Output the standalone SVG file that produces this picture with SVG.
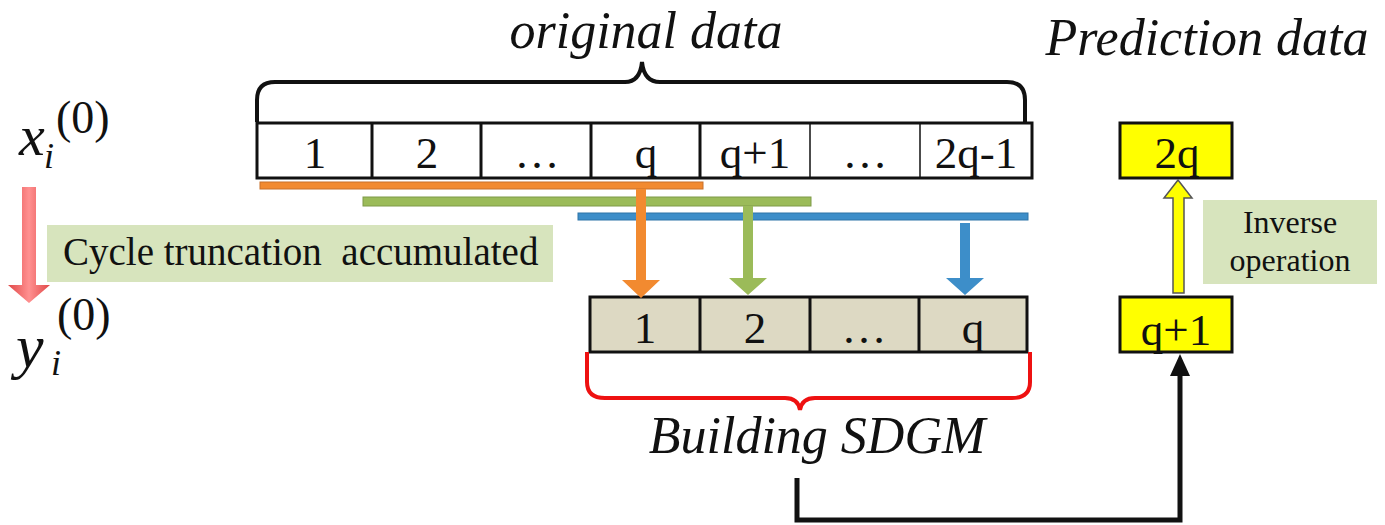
<svg xmlns="http://www.w3.org/2000/svg" width="1385" height="525" viewBox="0 0 1385 525">
<style>
text{font-family:"Liberation Serif","DejaVu Serif","Times New Roman",serif;fill:#111}
.it{font-style:italic}
.cell{font-size:45px;text-anchor:middle}
.cellbox{fill:#fff;stroke:#111;stroke-width:3}
.tan{fill:#ddd9c3;stroke:#111;stroke-width:3}
.yel{fill:#ffff00;stroke:#111;stroke-width:3}
.lbl{fill:#d7e4bd}
</style>
<defs>
<linearGradient id="rg" x1="0" y1="0" x2="1" y2="0">
<stop offset="0" stop-color="#e04848"/><stop offset="0.5" stop-color="#ff9090"/><stop offset="1" stop-color="#e04848"/>
</linearGradient>
</defs>
<rect width="1385" height="525" fill="#fff"/>

<g id="title-original">
<text class="it" x="646" y="48" font-size="52" text-anchor="middle">original data</text>
<path d="M257,122 L257,100 Q257,82 275,82 L625,82 Q640,82 642,62 Q644,82 660,82 L1007,82 Q1025,82 1025,100 L1025,122" fill="none" stroke="#111" stroke-width="4"/>
</g>
<g id="title-prediction">
<text class="it" x="1207" y="55" font-size="52" text-anchor="middle">Prediction data</text>
</g>

<g id="x-label">
<text class="it" x="19" y="155" font-size="58">x</text>
<text class="it" x="44" y="168" font-size="36">i</text>
<text x="56" y="133" font-size="46">(0)</text>
</g>
<g id="y-label">
<text class="it" x="16" y="367" font-size="62">y</text>
<text class="it" x="51" y="375" font-size="36">i</text>
<text x="57" y="330" font-size="46">(0)</text>
</g>

<g id="original-row">
<rect class="cellbox" x="257" y="123" width="775" height="55"/>
<g stroke="#111" stroke-width="3">
<line x1="372" y1="123" x2="372" y2="178"/>
<line x1="481" y1="123" x2="481" y2="178"/>
<line x1="591" y1="123" x2="591" y2="178"/>
<line x1="700" y1="123" x2="700" y2="178"/>
</g>
<g stroke="#111" stroke-width="1.5">
<line x1="810" y1="123" x2="810" y2="178"/>
<line x1="920" y1="123" x2="920" y2="178"/>
</g>
<g class="cell">
<text x="315" y="168">1</text>
<text x="427" y="168">2</text>
<text x="537" y="168">…</text>
<text x="646" y="168">q</text>
<text x="755" y="168">q+1</text>
<text x="865" y="168">…</text>
<text x="976" y="168">2q-1</text>
</g>
</g>

<g id="cycle-label">
<rect class="lbl" x="47" y="225" width="506" height="57"/>
<text x="63" y="265" font-size="39" xml:space="preserve">Cycle truncation  accumulated</text>
</g>

<g id="red-arrow">
<path d="M22,187 L36,187 L36,285 L50,285 L29,303 L8,285 L22,285 Z" fill="url(#rg)"/>
</g>

<g id="sdgm-row">
<rect class="tan" x="590" y="297" width="437" height="55"/>
<g stroke="#111" stroke-width="3">
<line x1="700" y1="297" x2="700" y2="352"/>
<line x1="810" y1="297" x2="810" y2="352"/>
<line x1="919" y1="297" x2="919" y2="352"/>
</g>
<g class="cell">
<text x="645" y="343">1</text>
<text x="755" y="343">2</text>
<text x="864" y="343">…</text>
<text x="973" y="343">q</text>
</g>
<path d="M587,352 L587,382 Q587,398 605,398 L785,398 Q798,398 800,410 Q802,398 815,398 L1012,398 Q1030,398 1030,382 L1030,352" fill="none" stroke="#ee1111" stroke-width="4"/>
<text class="it" x="817" y="453" font-size="52" text-anchor="middle">Building SDGM</text>
</g>

<g id="box-2q">
<rect class="yel" x="1120" y="123" width="112" height="55"/>
<text class="cell" x="1177" y="168">2q</text>
</g>
<g id="box-q1">
<rect class="yel" x="1120" y="297" width="112" height="55"/>
<text class="cell" x="1176" y="345">q+1</text>
</g>
<g id="inverse-label">
<rect class="lbl" x="1203" y="200" width="174" height="84"/>
<text x="1290" y="233" font-size="32" text-anchor="middle">Inverse</text>
<text x="1290" y="271" font-size="32" text-anchor="middle">operation</text>
</g>

<g id="connectors">
<rect x="260" y="182" width="443" height="7" fill="#f28a30" stroke="#c8702a" stroke-width="1"/>
<rect x="363" y="197" width="448" height="9" fill="#9bbb59" stroke="#7f9a48" stroke-width="1"/>
<rect x="578" y="213" width="450" height="7" fill="#3d8ec9" stroke="#2f75a8" stroke-width="1"/>
<path d="M636,189 L646,189 L646,280 L660,280 L641,298 L622,280 L636,280 Z" fill="#f28a30"/>
<path d="M743,206 L753,206 L753,278 L767,278 L748,295 L729,278 L743,278 Z" fill="#9bbb59"/>
<path d="M960,223 L970,223 L970,278 L984,278 L965,295 L946,278 L960,278 Z" fill="#3d8ec9"/>
<path d="M1173,293 L1173,198 L1164,198 L1178,180 L1192,198 L1184,198 L1184,293 Z" fill="#ffff00" stroke="#555" stroke-width="1.5"/>
<path d="M797,478 L797,520 L1180,520 L1180,372" fill="none" stroke="#111" stroke-width="5"/>
<path d="M1180,354 L1170,376 L1190,376 Z" fill="#111"/>
</g>
</svg>
